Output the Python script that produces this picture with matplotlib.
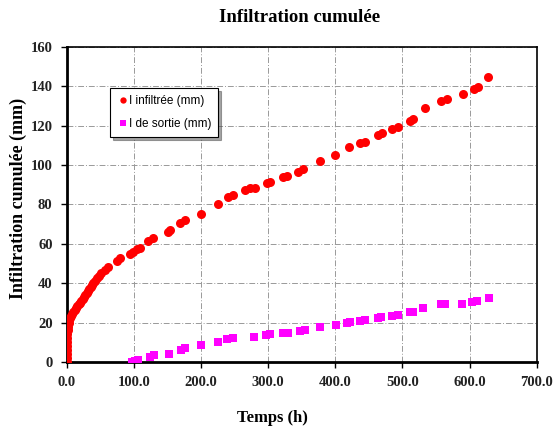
import matplotlib
matplotlib.use('Agg')
import matplotlib.pyplot as plt

# --- data (time in h, cumulative infiltration in mm) ---
t_infil = [0, 0.1, 0.2, 0.3, 0.5, 0.7, 1.0, 1.3, 1.7, 2.2, 3, 4, 5, 6.5, 8,
           10, 12, 14, 16, 18, 20, 22, 24, 26, 28, 30, 32, 34, 36, 38, 40,
           42, 45, 48, 52, 57, 62, 75, 80, 95, 99, 105, 110, 121, 129, 151,
           154, 169, 177, 200, 226, 241, 248, 265, 273, 281, 299, 303, 323,
           329, 345, 352, 378, 400, 420, 437, 445, 464, 470, 485, 494, 511,
           516, 533, 557, 566, 590, 606, 613, 628]
i_infil = [0, 2, 4, 6, 8, 10, 12, 14, 16, 18, 20, 21.5, 22.5, 23.5, 24.5,
           25.5, 26.5, 27.5, 28.5, 29.3, 30, 31, 32, 33, 34, 35, 36, 37.2,
           38.3, 39.3, 40.3, 41.3, 42.5, 43.8, 45, 46.7, 48.4, 51, 52.8, 55,
           56, 57.2, 58, 61.5, 62.9, 66, 67, 70.6, 72, 75, 80, 83.8, 84.8,
           87.3, 88.3, 88.3, 90.9, 91.4, 93.9, 94.4, 96.4, 98, 102, 105, 109,
           111, 111.8, 115.2, 116.2, 118.3, 119.3, 122.3, 123.4, 129, 132.5,
           133.5, 136, 138.6, 139.6, 144.7]

t_sortie = [98, 102, 107, 124, 130, 153, 170, 177, 200, 226, 239, 248, 279,
            297, 303, 323, 330, 348, 355, 377, 401, 418, 422, 437, 444, 464,
            468, 485, 493, 512, 516, 531, 557, 564, 589, 604, 611, 629]
i_sortie = [0, 0.7, 1, 2.7, 3.5, 4, 6, 6.9, 8.6, 10.3, 11.5, 12.3, 12.8,
            13.7, 14.2, 14.6, 14.9, 15.9, 16.2, 17.8, 18.8, 19.6, 20.1, 20.8,
            21.3, 22.2, 22.7, 23.4, 23.9, 25.2, 25.5, 27.2, 29.3, 29.4, 29.4,
            30.3, 31, 32.3]

x_ticks = [0, 100, 200, 300, 400, 500, 600, 700]
y_ticks = [0, 20, 40, 60, 80, 100, 120, 140, 160]

SERIF = 'Liberation Serif'
SANS = 'Liberation Sans'

fig = plt.figure(figsize=(5.53, 4.34), dpi=100)
ax = fig.add_axes([66.5 / 553, 1 - 362 / 434, (536.7 - 66.5) / 553, (362 - 46.7) / 434])

ax.plot(t_infil, i_infil, 'o', color='#ff0000', markersize=6.5, markeredgewidth=0,
        label='I infiltrée (mm)', zorder=3)
ax.plot(t_sortie, i_sortie, 's', color='#ff00ff', markersize=6, markeredgewidth=0,
        label='I de sortie (mm)', zorder=3)

ax.set_xlim(0, 700)
ax.set_ylim(0, 160)
ax.set_xticks(x_ticks)
ax.set_xticklabels([f'{v:.1f}' for v in x_ticks])
ax.set_yticks(y_ticks)
ax.grid(True, color='#999999', linestyle=(0, (6, 2, 1, 2)), linewidth=0.7)
ax.set_axisbelow(True)

for side in ['left', 'bottom']:
    ax.spines[side].set_linewidth(2.0)
for side in ['top', 'right']:
    ax.spines[side].set_linewidth(1.2)

ax.tick_params(direction='out', length=4, width=1, pad=6)
for lbl in ax.get_xticklabels() + ax.get_yticklabels():
    lbl.set_fontfamily(SERIF)
    lbl.set_fontweight('bold')
    lbl.set_fontsize(10.5)
    lbl.set_color('#222222')

# axis titles placed like the original (x title sits left of the axes centre)
fig.text(272 / 553, 1 - 418 / 434, 'Temps (h)', ha='center', va='center',
         fontfamily=SERIF, fontweight='bold', fontsize=12)
fig.text(18 / 553, 1 - 198 / 434, 'Infiltration cumulée (mm)', ha='center', va='center',
         rotation=90, fontfamily=SERIF, fontweight='bold', fontsize=13)
fig.text(300 / 553, 1 - 18 / 434, 'Infiltration cumulée', ha='center', va='center',
         fontfamily=SERIF, fontweight='bold', fontsize=13.5)

leg = ax.legend(loc='upper left', bbox_to_anchor=(0.085, 0.88), frameon=True,
                fancybox=False, shadow=True, prop={'family': SANS, 'size': 8.5},
                handletextpad=0.0, handlelength=1.0, borderpad=0.6, labelspacing=0.9,
                borderaxespad=0.3, markerscale=0.7)
leg.get_frame().set_edgecolor('black')
leg.get_frame().set_linewidth(0.8)

fig.savefig('out.png', dpi=100)
